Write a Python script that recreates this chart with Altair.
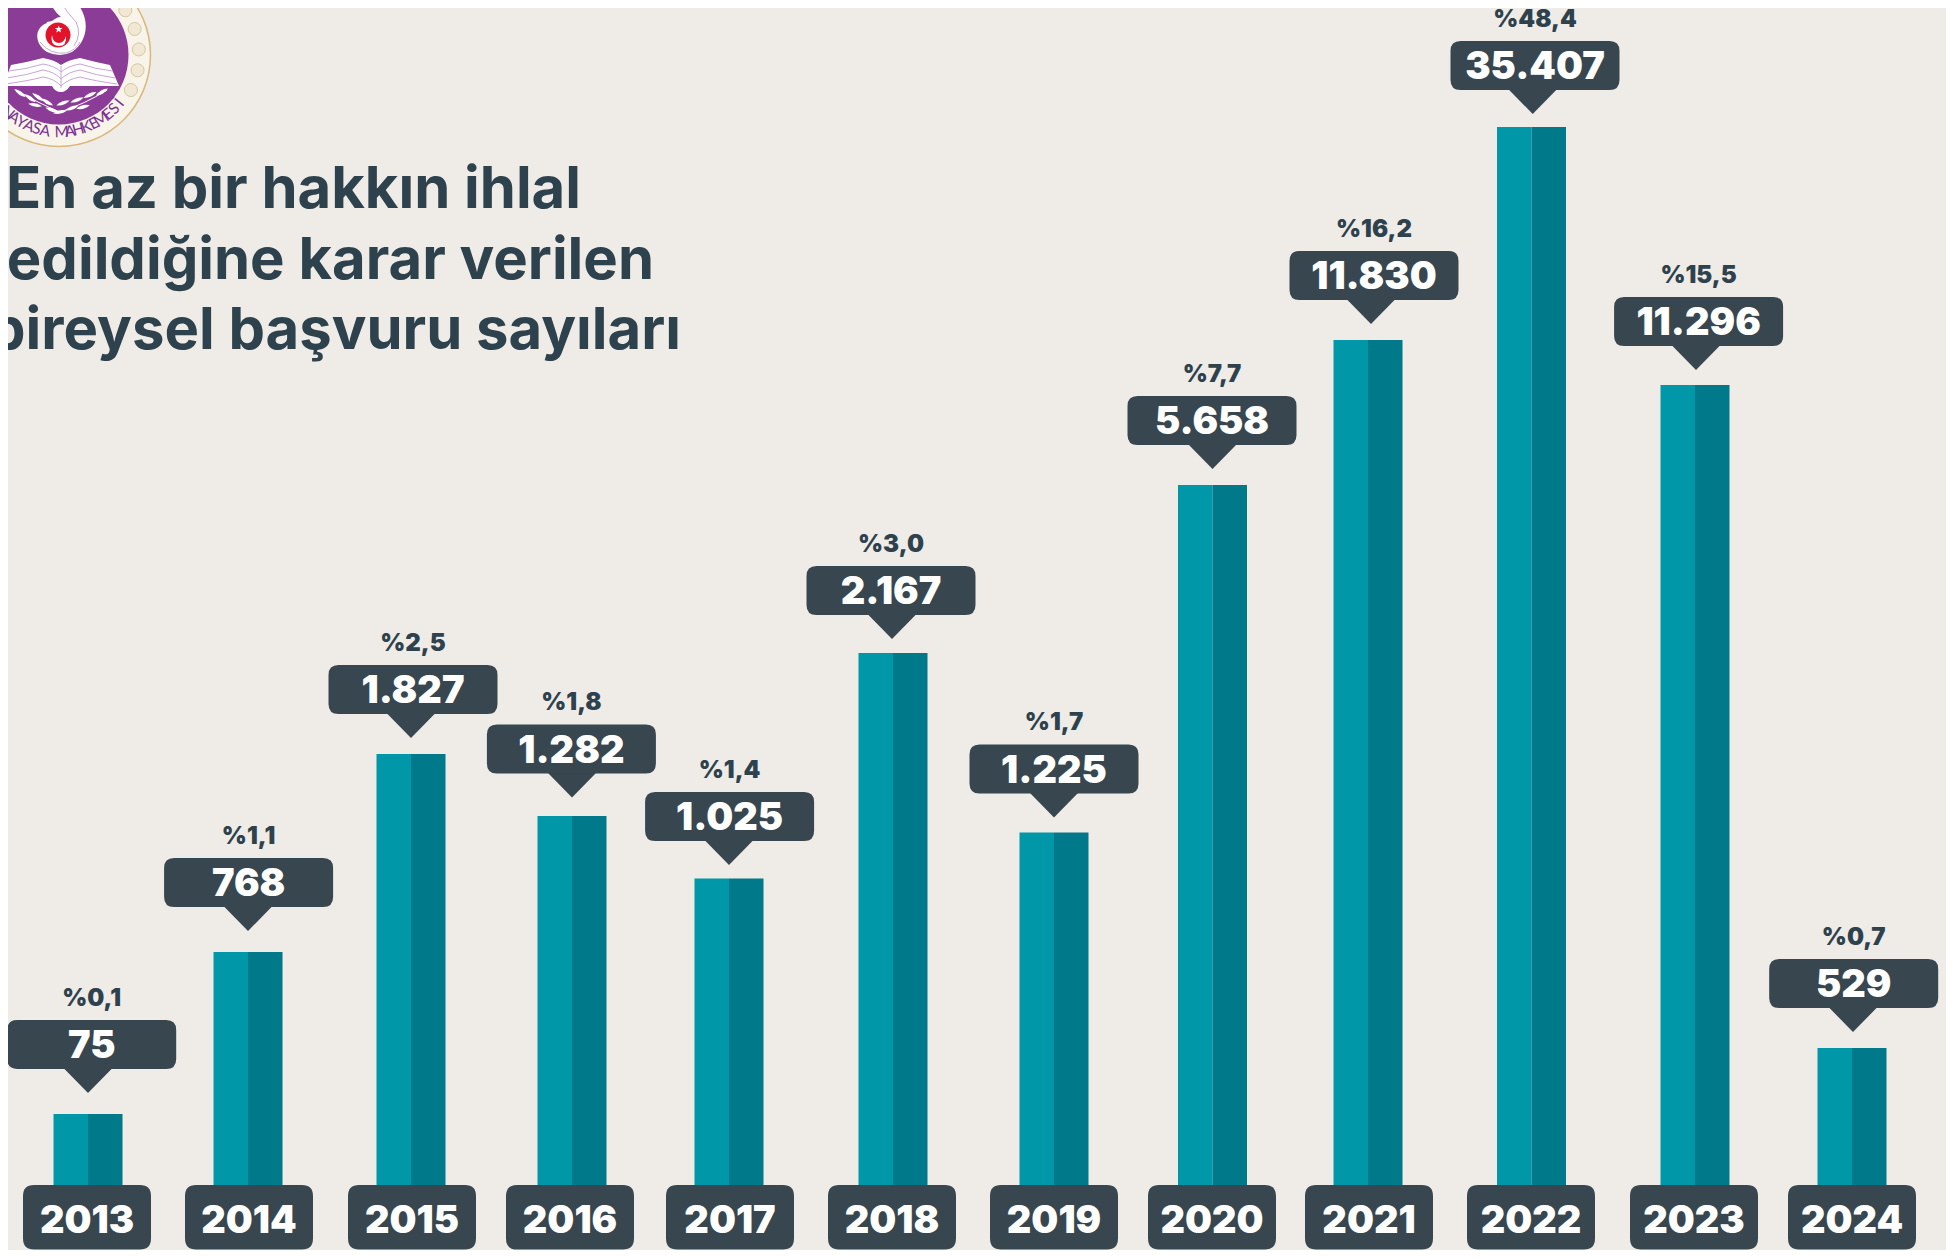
import math
import altair as alt
import pandas as pd

# ---- chart values
years = [2013, 2014, 2015, 2016, 2017, 2018, 2019, 2020, 2021, 2022, 2023, 2024]
counts = [75, 768, 1827, 1282, 1025, 2167, 1225, 5658, 11830, 35407, 11296, 529]
count_labels = ["75", "768", "1.827", "1.282", "1.025", "2.167", "1.225", "5.658", "11.830", "35.407", "11.296", "529"]
shares = ["%0,1", "%1,1", "%2,5", "%1,8", "%1,4", "%3,0", "%1,7", "%7,7", "%16,2", "%48,4", "%15,5", "%0,7"]
title_lines = ["En az bir hakkın ihlal", "edildiğine karar verilen", "bireysel başvuru sayıları"]
seal_text = "ANAYASA MAHKEMESİ"

# ---- styling / scale configuration (page pixels; the page margin is 8)
M = 8
BG = "#EFECE7"
BAR_L = "#0098A9"
BAR_R = "#00798B"
BOX = "#37464F"
INK = "#2E424D"
FONT = "Inter"

bar_x_px = [88, 248, 411, 572, 729, 893, 1054, 1212.5, 1368, 1531.5, 1695, 1852]
tip_x_px = [88, 248, 411, 572, 729, 892, 1054, 1212.5, 1371, 1532.7, 1696, 1853]
box_x_px = [91.7, 248.6, 413, 571.4, 729.6, 891, 1054, 1212, 1374, 1535, 1698.6, 1853.7]
year_x_px = [87, 249, 412, 570, 730, 892, 1054, 1212, 1369, 1531, 1694, 1852]

sorted_counts = sorted(counts)
bar_top_px = [1114, 1048, 952, 878.5, 832.5, 816, 754, 653, 485, 385, 340, 127]
tip_y_px = [1093, 1032, 931, 865, 817.5, 797.5, 738, 639, 469, 370, 324, 114]
BAR_BASE = 1185


def minus(vals):
    return [v - M for v in vals]


def x_enc(px):
    return alt.X("year:Q", axis=None, scale=alt.Scale(domain=years, range=minus(px), zero=False, nice=False, padding=0))


bar_y = alt.Y("count:Q", axis=None, scale=alt.Scale(domain=[0] + sorted_counts,
                                                    range=minus([BAR_BASE] + bar_top_px), zero=False, nice=False))
tip_y = alt.Y("count:Q", axis=None, scale=alt.Scale(domain=sorted_counts, range=minus(tip_y_px), zero=False, nice=False))


def round_rect(w, h, r):
    x, y = w / 2, h / 2
    return (f"M{-x+r} {-y}L{x-r} {-y}Q{x} {-y} {x} {-y+r}L{x} {y-r}Q{x} {y} {x-r} {y}"
            f"L{-x+r} {y}Q{-x} {y} {-x} {y-r}L{-x} {-y+r}Q{-x} {-y} {-x+r} {-y}Z")


def sym(path, fill, **kw):
    # a custom symbol is scaled by sqrt(size)/2: size 4 keeps the path in pixels
    return alt.Chart(df).mark_point(shape=path, size=4, filled=True, fill=fill, opacity=1, strokeWidth=0, **kw)


df = pd.DataFrame({"year": years, "count": counts, "count_label": count_labels, "share": shares})

bars_l = alt.Chart(df).mark_bar(width=34.5, xOffset=-17.25, color=BAR_L).encode(x=x_enc(bar_x_px), y=bar_y)
bars_r = alt.Chart(df).mark_bar(width=34.5, xOffset=17.25, color=BAR_R).encode(x=x_enc(bar_x_px), y=bar_y)

tips = sym("M-24.5 -25L24.5 -25L0 0Z", BOX).encode(x=x_enc(tip_x_px), y=tip_y)
boxes = sym(round_rect(169, 49, 10), BOX, yOffset=-48.5).encode(x=x_enc(box_x_px), y=tip_y)
count_text = alt.Chart(df).mark_text(font=FONT, fontWeight=900, fontSize=38, color="white", baseline="middle",
                                     yOffset=-46).encode(x=x_enc(box_x_px), y=tip_y, text="count_label:N")
share_text = alt.Chart(df).mark_text(font=FONT, fontWeight=900, fontSize=24, color=INK, baseline="middle",
                                     yOffset=-94.5).encode(x=x_enc(box_x_px), y=tip_y, text="share:N")

# the window leaves room down to 1250 only, so the year boxes end there with their corners intact
year_boxes = sym(round_rect(128, 64.5, 11), BOX).encode(x=x_enc(year_x_px), y=alt.value(1217.25 - M))
year_text = alt.Chart(df).mark_text(font=FONT, fontWeight=900, fontSize=38, color="white", baseline="middle",
                                    ).encode(x=x_enc(year_x_px), y=alt.value(1222 - M), text="year:N")

# ---- heading
title_df = pd.DataFrame({"line": title_lines, "right": [581 - M, 654 - M, 681 - M], "base": [208 - M, 279 - M, 349 - M]})
title = alt.Chart(title_df).mark_text(font=FONT, fontWeight=700, fontSize=58, color=INK, align="right",
                                      baseline="alphabetic").encode(
    x=alt.X("right:Q", scale=None, axis=None), y=alt.Y("base:Q", scale=None, axis=None), text="line:N")

# ---- seal (paths are in page pixels, origin placed at the page corner)
CX, CY = 59, 55
PURPLE = "#8A3C96"
LILAC = "#C9A6D1"


def circle(cx, cy, r):
    return f"M{cx-r} {cy}A{r} {r} 0 1 1 {cx+r} {cy}A{r} {r} 0 1 1 {cx-r} {cy}Z"


one = pd.DataFrame({"a": [0]})


def deco(path, fill=None, stroke=None, sw=0):
    kw = {}
    if fill:
        kw["fill"] = fill
    if stroke:
        kw["stroke"] = stroke
    return alt.Chart(one).mark_point(shape=path, size=4, filled=bool(fill), opacity=1, strokeWidth=sw, **kw).encode(
        x=alt.value(-M), y=alt.value(-M))


seal = [
    deco(circle(CX, CY, 91.5), fill="#F8F4EA", stroke="#D9B87C", sw=1.5),
]
bead_angles = [26, 11, -4, -19, -34, -49, -64, -79, -94, -109, -124, -139, -154, -169, -184, -199]
bead_df = pd.DataFrame({"x": [CX + 80 * math.cos(math.radians(a)) - M for a in bead_angles],
                        "y": [CY + 80 * math.sin(math.radians(a)) - M for a in bead_angles]})
beads = alt.Chart(bead_df).mark_point(shape="circle", size=170, filled=True, fill="#F1E8D4", stroke="#D8C6A0",
                                      strokeWidth=1, opacity=1).encode(
    x=alt.X("x:Q", scale=None, axis=None), y=alt.Y("y:Q", scale=None, axis=None))
seal += [beads, deco(circle(CX, CY, 69.5), fill=PURPLE)]

book = ("M3 86L11 65Q28 62 43 58Q55 60 61 65Q68 60 80 58Q95 62 110 65L119 86L70 86Q66 92 61 92Q55 92 52 86Z")
flame = ("M50 0Q52 10 62 18Q60 15 52 21Q45 22 47 23C33 28 35 45 47 52Q60 58 72 52C90 40 90 15 74 0Z")
seal += [
    deco(flame, fill="white"),
    deco("M60 0Q66 12 76 22Q82 34 74 46", stroke=LILAC, sw=1),
    deco("M40 42Q50 55 66 53Q76 50 80 42", stroke=LILAC, sw=1),
    deco(circle(58, 35, 12.5), fill="#E3132C"),
    deco("M52 35Q50 46 59 46Q67 46 66 36Q64 43 59 43Q53 43 52 35Z", fill="white"),
    deco("M58.7 25.5L59.7 28L62.5 28L60.3 29.8L61.2 32.5L58.7 30.9L56.2 32.5L57.1 29.8L54.9 28L57.7 28Z", fill="white"),
    deco(book, fill="white"),
    deco("M9 71Q28 69 43 64Q55 66 61 72Q68 66 80 64Q95 69 113 71", stroke=LILAC, sw=1),
    deco("M7 78Q28 75 43 70Q55 72 61 79Q68 72 80 70Q95 75 115 78", stroke=LILAC, sw=1),
    deco("M5 84Q28 81 43 77Q55 79 61 86Q68 79 80 77Q95 81 117 84", stroke=LILAC, sw=1),
    deco("M61 66L61 88", stroke=LILAC, sw=1),
    deco("M16 90Q40 104 60 112Q85 104 107 90", stroke="white", sw=1),
]
leaf_x = [20, 30, 38, 47, 35, 52, 63, 77, 90, 102, 72, 60, 83]
leaf_y = [93, 98, 97, 102, 105, 110, 103, 100, 95, 92, 108, 112, 107]
leaf_a = [35, 35, 35, 30, 10, 20, 340, 340, 335, 330, 340, 350, 345]
leaf_df = pd.DataFrame({"x": [v - M for v in leaf_x], "y": [v - M for v in leaf_y], "a": leaf_a})
leaves = alt.Chart(leaf_df).mark_point(shape="M-1 0Q0 -0.5 1 0Q0 0.5 -1 0Z", size=200, filled=True, fill="white",
                                       opacity=1, strokeWidth=0).encode(
    x=alt.X("x:Q", scale=None, axis=None), y=alt.Y("y:Q", scale=None, axis=None), angle=alt.Angle("a:Q", scale=None))
seal.append(leaves)

chars = [c for c in seal_text]
thetas = [-48 + 6.25 * i for i in range(len(chars))]
seal_df = pd.DataFrame({
    "c": chars,
    "x": [CX + 77 * math.sin(math.radians(t)) - M for t in thetas],
    "y": [CY + 77 * math.cos(math.radians(t)) - M for t in thetas],
    "a": [(360 - t) % 360 for t in thetas],
})
seal_letters = alt.Chart(seal_df).mark_text(font="Lato", fontSize=15.5, color="#7A3290", baseline="middle").encode(
    x=alt.X("x:Q", scale=None, axis=None), y=alt.Y("y:Q", scale=None, axis=None),
    angle=alt.Angle("a:Q", scale=None), text="c:N")
seal.append(seal_letters)

chart = alt.layer(
    *seal, title, bars_l, bars_r, tips, boxes, count_text, share_text, year_boxes, year_text
).resolve_scale(x="independent", y="independent").properties(
    width=1938, height=1242, background=BG, padding=0, autosize=alt.AutoSizeParams(type="none")
).configure_view(stroke=None)

chart.save("out.html", embed_options={"renderer": "svg", "actions": False})
